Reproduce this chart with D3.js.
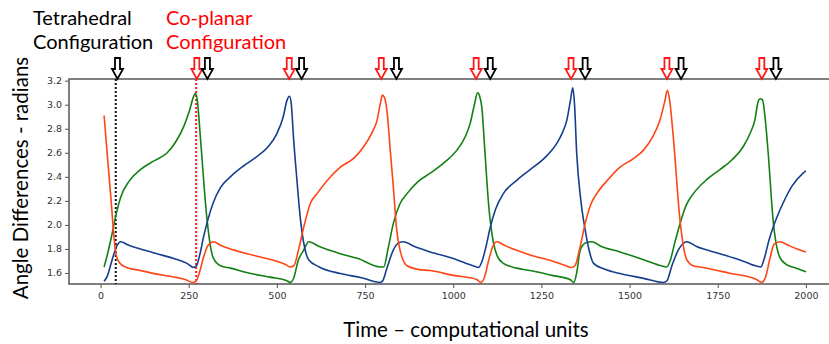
<!DOCTYPE html>
<html>
<head>
<meta charset="utf-8">
<script src="https://cdn.jsdelivr.net/npm/d3@7"></script>
<style>
  body { margin: 0; background: #fff; }
  svg { display: block; font-family: Lato, "Open Sans", sans-serif; }
</style>
</head>
<body>
<div id="chart"></div>
<script>
// values: [time, angle difference]
var redSeries = [
  [10,2.91],[20,2.55],[30,2.2],[38,1.9],[45,1.74],[55,1.68],[70,1.65],[113,1.62],[160,1.59],
  [207,1.567],[240,1.545],[262,1.52],[270,1.53],[280,1.6],[292,1.73],[305,1.83],[321,1.86],
  [340,1.83],[397,1.775],[450,1.735],[490,1.706],[525,1.67],[538,1.65],[548,1.66],[562,1.8],
  [576,1.98],[595,2.18],[614,2.26],[652,2.4],[680,2.48],[720,2.56],[746,2.65],[770,2.77],
  [784,2.87],[794,3.02],[799,3.08],[805,3.06],[812,2.95],[822,2.6],[830,2.32],[840,1.95],
  [850,1.78],[869,1.66],[900,1.63],[935,1.62],[1000,1.58],[1067,1.545],[1078,1.52],[1088,1.56],
  [1100,1.7],[1112,1.82],[1124,1.86],[1145,1.83],[1218,1.75],[1280,1.7],[1320,1.66],[1334,1.645],
  [1345,1.66],[1360,1.82],[1374,2.01],[1390,2.17],[1407,2.26],[1440,2.38],[1473,2.48],[1510,2.55],
  [1539,2.62],[1565,2.73],[1586,2.87],[1600,3.03],[1607,3.12],[1613,3.05],[1624,2.73],[1643,2.04],
  [1662,1.71],[1680,1.66],[1709,1.645],[1780,1.6],[1860,1.545],[1874,1.52],[1885,1.56],[1898,1.72],
  [1910,1.84],[1926,1.86],[1950,1.83],[1975,1.8],[2000,1.775]
];
var greenSeries = [
  [10,1.65],[20,1.76],[33,1.93],[45,2.1],[57,2.23],[80,2.36],[113,2.46],[150,2.53],[189,2.6],
  [215,2.7],[236,2.82],[252,2.95],[264,3.07],[269,3.095],[275,3.02],[283,2.73],[302,2.04],
  [319,1.73],[340,1.66],[368,1.64],[420,1.6],[480,1.565],[525,1.54],[538,1.52],[548,1.56],
  [560,1.7],[576,1.79],[590,1.86],[620,1.82],[680,1.76],[730,1.72],[793,1.65],[803,1.65],
  [815,1.8],[830,2.01],[848,2.17],[869,2.26],[900,2.36],[935,2.43],[975,2.52],[1010,2.62],
  [1035,2.74],[1048,2.845],[1060,3.0],[1069,3.1],[1075,3.07],[1081,2.98],[1090,2.6],[1100,2.18],
  [1114,1.85],[1125,1.74],[1142,1.68],[1180,1.64],[1218,1.62],[1280,1.58],[1331,1.545],[1342,1.52],
  [1350,1.6],[1360,1.79],[1375,1.85],[1393,1.86],[1420,1.82],[1473,1.775],[1540,1.71],[1590,1.66],
  [1605,1.65],[1615,1.7],[1628,1.85],[1643,2.01],[1660,2.16],[1681,2.26],[1720,2.38],[1756,2.46],
  [1790,2.54],[1822,2.65],[1840,2.75],[1855,2.87],[1865,3.03],[1870,3.05],[1877,3.04],[1884,2.9],
  [1893,2.6],[1907,2.04],[1926,1.73],[1945,1.67],[1973,1.64],[2000,1.61]
];
var blueSeries = [
  [10,1.53],[20,1.58],[30,1.68],[38,1.76],[47,1.83],[57,1.86],[80,1.83],[113,1.8],[160,1.76],
  [208,1.72],[245,1.68],[264,1.645],[272,1.66],[282,1.76],[292,1.9],[305,2.05],[319,2.18],
  [340,2.31],[368,2.4],[405,2.49],[444,2.57],[475,2.65],[500,2.76],[518,2.9],[529,3.04],
  [536,3.07],[541,3.0],[547,2.73],[556,2.4],[567,2.04],[578,1.82],[590,1.71],[620,1.65],
  [680,1.595],[740,1.56],[793,1.52],[800,1.535],[812,1.64],[830,1.79],[845,1.85],[859,1.86],
  [890,1.82],[935,1.775],[1000,1.72],[1060,1.655],[1072,1.645],[1082,1.7],[1093,1.82],[1105,1.98],
  [1120,2.13],[1142,2.26],[1180,2.37],[1218,2.46],[1260,2.56],[1294,2.68],[1310,2.77],[1322,2.87],
  [1332,3.03],[1339,3.14],[1344,3.0],[1350,2.6],[1362,2.2],[1374,1.96],[1386,1.78],[1398,1.68],
  [1430,1.63],[1473,1.595],[1540,1.555],[1596,1.52],[1606,1.535],[1620,1.66],[1640,1.8],[1662,1.86],
  [1690,1.82],[1756,1.76],[1820,1.7],[1862,1.655],[1872,1.65],[1882,1.72],[1895,1.87],[1907,1.98],
  [1920,2.08],[1935,2.18],[1960,2.32],[1992,2.43],[2000,2.45]
];

// arrow marks (time) and the two dotted markers
var blackArrows = [48, 303, 570, 839, 1105, 1374, 1646, 1915];
var redArrows = [273, 535, 796, 1065, 1334, 1606, 1875];
var blackLine = 43;
var redLine = 271;

var xTicks = [0, 250, 500, 750, 1000, 1250, 1500, 1750, 2000];
var yTicks = [1.6, 1.8, 2.0, 2.2, 2.4, 2.6, 2.8, 3.0, 3.2];

var W = 829, H = 344;
var plot = {left: 69, top: 79, bottom: 284, right: 841};

var svg = d3.select("#chart")
  .append("svg")
    .attr("width", W)
    .attr("height", H);

var xScale = d3.scaleLinear()
  .domain([-89.5, 2099.5])
  .range([plot.left, plot.right]);

var yScale = d3.scaleLinear()
  .domain([1.508, 3.214])
  .range([plot.bottom, plot.top]);

// clip
svg.append("clipPath").attr("id", "clip")
  .append("rect")
    .attr("x", plot.left).attr("y", plot.top)
    .attr("width", plot.right - plot.left).attr("height", plot.bottom - plot.top);

// axes
var xAxis = svg.append("g")
  .attr("transform", "translate(0," + plot.bottom + ")")
  .call(d3.axisBottom(xScale).tickValues(xTicks).tickSize(4).tickPadding(4).tickFormat(d3.format("d")));
var yAxis = svg.append("g")
  .attr("transform", "translate(" + plot.left + ",0)")
  .call(d3.axisLeft(yScale).tickValues(yTicks).tickSize(4).tickPadding(3).tickFormat(d3.format(".1f")));

[xAxis, yAxis].forEach(function(a) {
  a.select(".domain").remove();
  a.selectAll(".tick line").attr("stroke", "#555").attr("stroke-width", 1);
  a.selectAll(".tick text").attr("fill", "#333").attr("font-size", "9.5px")
    .attr("font-family", "'DejaVu Sans', sans-serif");
});

// frame
svg.append("rect")
  .attr("x", plot.left).attr("y", plot.top)
  .attr("width", plot.right - plot.left).attr("height", plot.bottom - plot.top)
  .attr("fill", "none").attr("stroke", "#555").attr("stroke-width", 1.5);

// dotted markers
svg.append("line")
  .attr("x1", xScale(blackLine)).attr("x2", xScale(blackLine))
  .attr("y1", plot.top).attr("y2", plot.bottom)
  .attr("stroke", "#111").attr("stroke-width", 2).attr("stroke-dasharray", "2,2");
svg.append("line")
  .attr("x1", xScale(redLine)).attr("x2", xScale(redLine))
  .attr("y1", plot.top).attr("y2", plot.bottom)
  .attr("stroke", "#ff1a1a").attr("stroke-width", 2).attr("stroke-dasharray", "2,2");

// lines
var line = d3.line()
  .x(function(d) { return xScale(d[0]); })
  .y(function(d) { return yScale(d[1]); })
  .curve(d3.curveMonotoneX);

var series = [
  {data: greenSeries, color: "#138013"},
  {data: blueSeries, color: "#153f8e"},
  {data: redSeries, color: "#ff4515"}
];
svg.append("g").attr("clip-path", "url(#clip)")
  .selectAll("path")
  .data(series)
  .enter()
  .append("path")
    .attr("d", function(d) { return line(d.data); })
    .attr("fill", "none")
    .attr("stroke", function(d) { return d.color; })
    .attr("stroke-width", 1.6);

// hollow down arrows above the frame
function arrowPath(cx) {
  var tip = plot.top, top = plot.top - 21, neck = plot.top - 10;
  return "M" + (cx - 2.5) + "," + top + "L" + (cx + 2.5) + "," + top +
    "L" + (cx + 2.5) + "," + neck + "L" + (cx + 5.5) + "," + neck +
    "L" + cx + "," + tip + "L" + (cx - 5.5) + "," + neck +
    "L" + (cx - 2.5) + "," + neck + "Z";
}
svg.append("g").selectAll("path")
  .data(redArrows)
  .enter()
  .append("path")
    .attr("d", function(d) { return arrowPath(xScale(d)); })
    .attr("fill", "#fff").attr("stroke", "#ff1a1a").attr("stroke-width", 1.8)
    .attr("stroke-linejoin", "miter");
svg.append("g").selectAll("path")
  .data(blackArrows)
  .enter()
  .append("path")
    .attr("d", function(d) { return arrowPath(xScale(d)); })
    .attr("fill", "#fff").attr("stroke", "#000").attr("stroke-width", 1.8)
    .attr("stroke-linejoin", "miter");

// titles
var tFont = "20px";
svg.append("text").attr("x", 33).attr("y", 25).attr("font-size", tFont).attr("fill", "#000").text("Tetrahedral");
svg.append("text").attr("x", 33).attr("y", 49).attr("font-size", tFont).attr("fill", "#000").text("Configuration");
svg.append("text").attr("x", 166).attr("y", 25).attr("font-size", tFont).attr("fill", "#ff0000").text("Co-planar");
svg.append("text").attr("x", 166).attr("y", 49).attr("font-size", tFont).attr("fill", "#ff0000").text("Configuration");

// axis labels
svg.append("text")
  .attr("x", 466).attr("y", 337)
  .attr("font-size", "20.5px")
  .attr("text-anchor", "middle")
  .text("Time \u2013 computational units");

svg.append("text")
  .attr("transform", "translate(28,178) rotate(-90)")
  .attr("font-size", "20.5px")
  .attr("text-anchor", "middle")
  .text("Angle Differences - radians");
</script>
</body>
</html>
